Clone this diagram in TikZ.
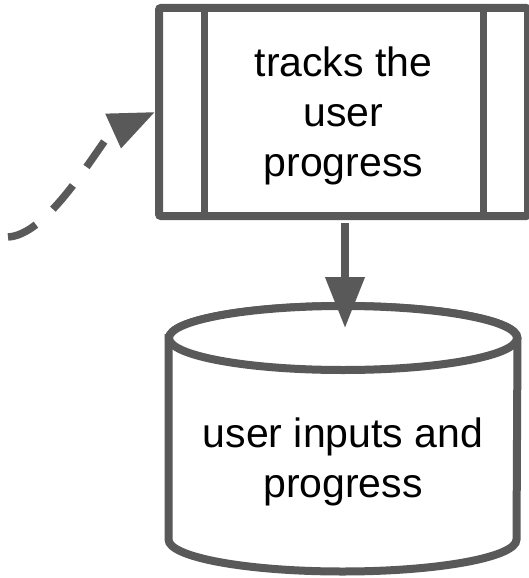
\documentclass[tikz,border=0pt]{standalone}
\usepackage{fontspec}
\setmainfont{Liberation Sans}
\usetikzlibrary{arrows.meta,calc}
\definecolor{ink}{HTML}{595959}
\begin{document}
\begin{tikzpicture}[x=1pt,y=-1pt,
  every node/.style={font=\fontsize{41}{50}\selectfont, align=center, text=black},
  boxline/.style={draw=ink, line width=8pt, fill=white},
  divider/.style={draw=ink, line width=7pt},
  conn/.style={draw=ink, line width=7.5pt},
  downhead/.style={-{Triangle[length=51pt,width=38pt]}},
  dashhead/.style={-{Triangle[length=46pt,width=36pt]}},
]
\useasboundingbox (0,0) rectangle (529,578);
% process box
\node[boxline, minimum width=369pt, minimum height=208pt, inner sep=0pt, rounded corners=2pt] (track) at (343.5,112) {};
\node (tracktext) at (343.5,116) {tracks the\\user\\progress};
\draw[divider] ($(track.north west)+(49,0)$) -- ($(track.south west)+(49,0)$);
\draw[divider] ($(track.north east)+(-49,0)$) -- ($(track.south east)+(-49,0)$);
% data store
\draw[boxline] (168.5,338) -- (168.5,539.5)
  arc[start angle=180,end angle=360,x radius=174pt,y radius=32pt]
  -- (517.5,338)
  arc[start angle=0,end angle=180,x radius=174pt,y radius=32pt] -- cycle;
\draw[boxline] (343,338) ellipse[x radius=174pt,y radius=32pt];
\node (store) at (343,462) {user inputs and\\progress};
% connectors
\coordinate (storetop) at (345,328);
\draw[conn, downhead, shorten <=3pt] (track.south -| storetop) -- (storetop);
\coordinate (src) at (8,237);
\coordinate (bend) at (111,132);
\draw[conn, dash pattern=on 31pt off 23pt, dashhead] (src) .. controls (45,235) and (87,165) .. (bend) -- (track.west);
\end{tikzpicture}
\end{document}
